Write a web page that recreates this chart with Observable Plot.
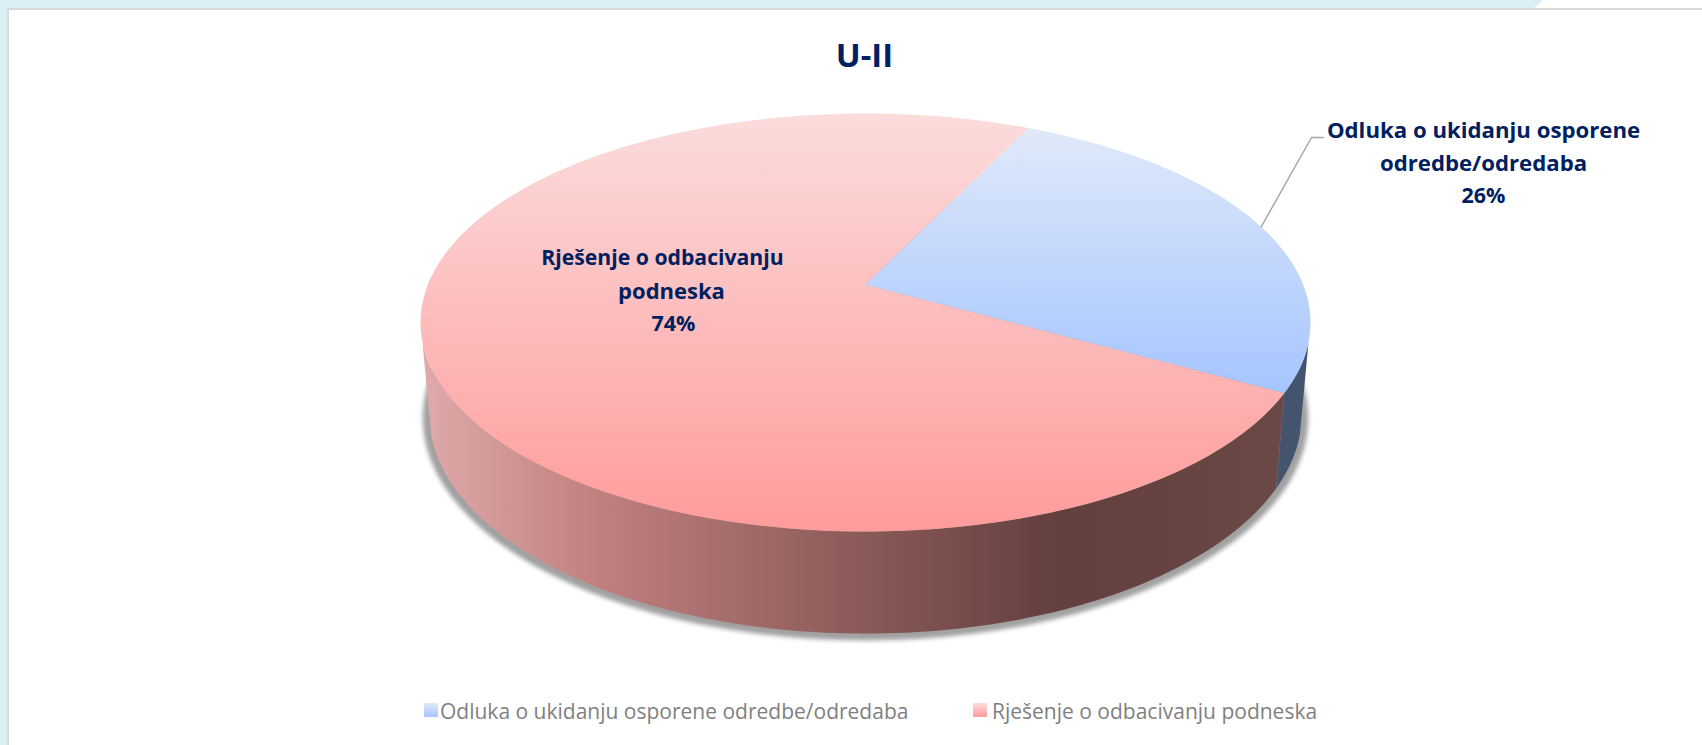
<!DOCTYPE html>
<html lang="hr">
<head>
<meta charset="utf-8">
<script src="https://cdn.jsdelivr.net/npm/d3@7"></script>
<script src="https://cdn.jsdelivr.net/npm/@observablehq/plot@0.6"></script>
<style>
  html, body { margin: 0; padding: 0; width: 1702px; height: 745px; overflow: hidden; background: #fff; font-family: "Open Sans", Lato, sans-serif; }
  #band { position: absolute; left: 0; top: 0; width: 1702px; height: 745px; background: #dbeef4; clip-path: polygon(0 0, 1543px 0, 1533px 9px, 9px 9px, 9px 745px, 0 745px); }
  #panel { position: absolute; left: 7px; top: 8px; width: 1695px; height: 737px; box-sizing: border-box; border-left: 2px solid #d9d9d9; border-top: 2px solid #dcd9dc; }
  #title { position: absolute; left: 0; top: 0; width: 1702px; height: 85px; line-height: 110px; text-align: center; font-weight: 700; font-size: 33px; color: #002060; padding-left: 27px; box-sizing: border-box; }
  #chart { position: absolute; left: 0; top: 85px; }
  #legend { position: absolute; left: 0; top: 695px; width: 1702px; height: 50px; color: #7f7f7f; font-size: 21px; }
  #legend span { position: absolute; top: 2px; white-space: nowrap; line-height: 28px; }
  #legend i { position: absolute; top: 8px; width: 14px; height: 14px; }
</style>
</head>
<body>
<div id="band"></div>
<div id="panel"></div>
<div id="title"></div>
<div id="chart"></div>
<div id="legend"></div>
<script>
const chartTitle = "U-II";
const categories = ["Odluka o ukidanju osporene odredbe/odredaba", "Rješenje o odbacivanju podneska"];
const shares = [26, 74];
const labelLines = [
  ["Odluka o ukidanju osporene", "odredbe/odredaba", "26%"],
  ["Rješenje o odbacivanju", "podneska", "74%"]
];
const topColors = [["#e0e9f9", "#a5c5ff"], ["#fbdcdc", "#ff9b9b"]];
const sideColors = [["#44546f", "#44546f"], ["#dfaaaa", "#bf7f7e", "#8a5a58", "#633f3e", "#6a4946"]];
const sideStops = [[0, 1], [0, 0.21, 0.51, 0.74, 1]];

// Perspective view of the disc (page pixels)
const view = {cx: 865, apexY: 284, A: 202.1, B: 437.6, persp: 0.1818, startDeg: 25.7, silhouetteDeg: 15.8};
const base = {y0: 374, A: 212, B: 429};

const rad = d => d * Math.PI / 180;
// angle: degrees clockwise from 12 o'clock on the disc
const rimTop = a => {
  const u = Math.sin(rad(a)), v = Math.cos(rad(a)), k = 1 + view.persp * v;
  return {x: view.cx + view.B * u / k, y: view.apexY - view.A * v / k};
};
const rimBase = (a, g = 1, dy = 0) => {
  const u = Math.sin(rad(a)), v = Math.cos(rad(a)), k = 1 + view.persp * v;
  return {x: view.cx + g * base.B * u / k, y: base.y0 + dy - g * base.A * v / k};
};
const sweep = (a0, a1, f) => d3.range(0, 121).map(i => f(a0 + (a1 - a0) * i / 120));

// slice angles from the shares
const total = d3.sum(shares);
let acc = view.startDeg;
const slices = shares.map((s, i) => {
  const a0 = acc; acc += s / total * 360;
  return {i, a0, a1: acc, mid: (a0 + acc) / 2};
});

const apex = {x: view.cx, y: view.apexY};
const topPoly = s => [apex, ...sweep(s.a0, s.a1, rimTop)];
const silhR = 90 + view.silhouetteDeg, silhL = 270 - view.silhouetteDeg;
const sidePoly = (a0, a1) => [...sweep(a0, a1, rimTop), ...sweep(a1, a0, rimBase)];
const blueEnd = slices[0].a1;

const leaderStart = rimTop(slices[0].mid);
const leader = [leaderStart, {x: 1311, y: 137}, {x: 1323, y: 137}];

const labelAnchors = [{x: 1483, y: 130}, {x: 662, y: 258}];
const labelShift = [[0, 0, 0], [0, 9, 11]];
const labelSize = [[22.2, 22.2, 21.5], [21.2, 22, 21.5]];
const lineGap = 33;
const labelRows = labelLines.flatMap((lines, i) =>
  lines.map((t, j) => ({t, size: labelSize[i][j], x: labelAnchors[i].x + labelShift[i][j], y: labelAnchors[i].y + j * lineGap})));

function gradient(id, colors, stops, horizontal) {
  const g = d3.create("svg:linearGradient").attr("id", id)
    .attr("x1", 0).attr("y1", 0).attr("x2", horizontal ? 1 : 0).attr("y2", horizontal ? 0 : 1);
  colors.forEach((c, i) => g.append("stop").attr("offset", stops[i]).attr("stop-color", c));
  return g.node();
}
const defs = () => {
  const d = d3.create("svg:defs");
  topColors.forEach((c, i) => d.append(() => gradient("top" + i, c, [0, 1], false)));
  sideColors.forEach((c, i) => d.append(() => gradient("side" + i, c, sideStops[i], true)));
  return d.node();
};

const poly = (pts, fill, extra = {}) => Plot.line(pts, {x: "x", y: "y", fill, stroke: "none", ...extra});

const chart = Plot.plot({
  width: 1702,
  height: 610,
  margin: 0,
  x: {domain: [0, 1702], range: [0, 1702], axis: null},
  y: {domain: [85, 695], range: [0, 610], axis: null},
  style: {background: "transparent"},
  marks: [
    defs,
    poly(sweep(0, 360, a => rimBase(a, 1.015, 3)), "#8a8a8a", {imageFilter: "blur(2px)", fillOpacity: 0.8}),
    poly(sidePoly(blueEnd, silhL), "url(#side1)"),
    poly(sidePoly(silhR, blueEnd), "url(#side0)"),
    poly(topPoly(slices[1]), "url(#top1)"),
    poly(topPoly(slices[0]), "url(#top0)"),
    Plot.line(leader, {x: "x", y: "y", stroke: "#a6a6a6", strokeWidth: 1.5}),
    Plot.text(labelRows, {x: "x", y: "y", text: "t", fill: "#002060", fontWeight: 700, fontSize: "size", fontFamily: "Open Sans", lineAnchor: "middle"})
  ]
});
document.getElementById("chart").append(chart);
document.getElementById("title").textContent = chartTitle;

const legend = document.getElementById("legend");
const legendX = [[424, 440], [973, 992]];
categories.forEach((c, i) => {
  const sw = document.createElement("i");
  sw.style.left = legendX[i][0] + "px";
  sw.style.background = `linear-gradient(${topColors[i][0]}, ${topColors[i][1]})`;
  const t = document.createElement("span");
  t.style.left = legendX[i][1] + "px";
  t.textContent = c;
  legend.append(sw, t);
});
</script>
</body>
</html>
